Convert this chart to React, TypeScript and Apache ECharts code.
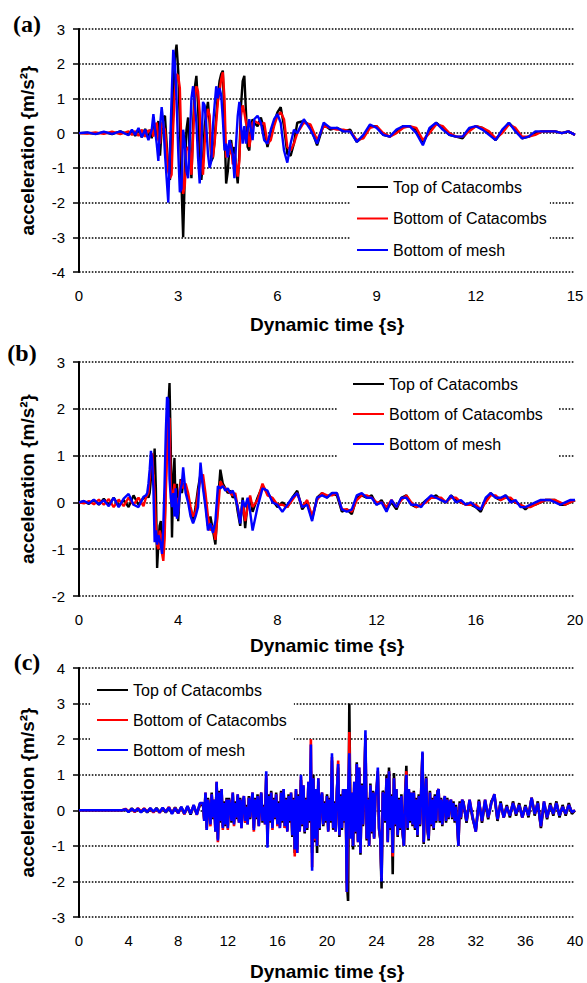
import React, { useEffect, useRef } from 'react';
import * as echarts from 'echarts';

// sampling-time helper (x positions of samples, not data values)
const steps = (a: number, b: number, s: number): number[] => {
  const out: number[] = [];
  const n = Math.round((b - a) / s);
  for (let i = 0; i <= n; i++) out.push(+(a + i * s).toFixed(3));
  return out;
};

const SERIES_NAMES = ['Top of Catacombs', 'Bottom of Catacombs', 'Bottom of mesh'];
const SERIES_COLORS = ['#000000', '#ff0000', '#0000ff'];
const X_TITLE = 'Dynamic time {s}';
const Y_TITLE = 'acceleration {m/s²}';
const PANEL_LABELS = ['(a)', '(b)', '(c)'];

// ---------- Panel (a) ----------
const A_TIME = [...steps(0, 1.5, 0.25), ...steps(1.6, 2.1, 0.1), ...steps(2.15, 5.3, 0.05), ...steps(5.4, 6.6, 0.1), ...steps(6.8, 15, 0.2)];
const A_TOP = [
  0, 0.01, -0.02, 0.03, -0.03, 0.05, -0.04, 0.06, -0.08, 0.1, -0.12, 0.12, -0.15,
  0.1, -0.15, 0.3, 0.25, -0.1, 0.35, -0.65, 0.1, 0.45, 0.5,
  -0.3, -1.0, -1.35, -0.6, 1.0, 2.2, 2.55, 1.8, 0.3, -1.5,
  -3.0, -1.2, 0.1, 0.45, -0.6, -1.3, 0.2, 1.3, 1.65, 0.8,
  -0.6, -1.35, -0.8, 0.2, 0.6, 0.9, 0.3, -0.8, -0.7, -0.2,
  0.5, 1.1, 1.5, 1.7, 1.8, 0.2, -1.45, -1.1, -0.4, -0.2,
  -0.6, -0.4, -1.0, -1.45, -0.6, 0.8, 1.5, 1.65, 0.6, -0.4,
  -0.5, 0.2, 0.4, 0.3,
  0.2, 0.45, 0.1, -0.4, 0.0, 0.3, 0.6, 0.75, 0.2, -0.6, -0.65, -0.3, 0.3,
  0.35, 0.2, -0.35, 0.25, 0.1, 0.15, 0.05, 0.1, -0.25, -0.1,
  0.2, 0.2, -0.05, -0.1, 0.05, 0.2, 0.2, 0.1, -0.3, 0.1,
  0.3, 0.15, -0.05, -0.1, -0.15, 0.1, 0.2, 0.15, 0.0, -0.2,
  0.05, 0.3, 0.1, -0.15, -0.1, 0.0, 0.05, 0.05, 0.05, 0.0,
  0.05, -0.05,
];
const A_BOT = [
  0, -0.01, 0.02, -0.02, 0.04, -0.03, 0.05, -0.05, 0.06, -0.08, 0.1, -0.1, 0.08,
  0.05, 0.1, -0.1, 0.2, 0.3, -0.2, -0.3, 0.3, 0.2, 0.1,
  -0.5, -1.1, -1.3, -1.2, 0.2, 1.2, 1.7, 1.65, 1.3, -0.5,
  -1.75, -1.5, -0.5, -0.4, -0.5, -1.2, -0.1, 1.0, 1.35, 1.2,
  0.6, -0.8, -1.2, -0.3, 0.4, 0.7, 0.5, -0.6, -0.7, -0.3,
  0.3, 0.9, 1.2, 1.55, 1.75, 1.0, -0.7, -0.6, -0.6, -0.3,
  -0.9, -0.6, -0.9, -1.25, -0.8, 0.5, 0.8, 0.6, 0.3, 0.2,
  -0.4, -0.1, 0.3, 0.35,
  0.3, 0.25, 0.3, -0.3, -0.2, 0.2, 0.5, 0.6, 0.4, -0.4, -0.5, -0.3, 0.0,
  0.3, 0.25, -0.2, 0.2, 0.15, 0.1, 0.1, 0.05, -0.2, -0.15,
  0.15, 0.2, 0.0, -0.1, 0.0, 0.15, 0.2, 0.15, -0.2, 0.0,
  0.25, 0.2, 0.0, -0.1, -0.1, 0.05, 0.2, 0.15, 0.05, -0.15,
  0.0, 0.25, 0.15, -0.1, -0.1, -0.05, 0.05, 0.05, 0.05, 0.0,
  0.05, -0.05,
];
const A_MESH = [
  0, 0.02, -0.03, 0.04, -0.02, 0.05, -0.06, 0.1, -0.05, 0.15, -0.12, 0.1, -0.2,
  -0.05, 0.1, 0.55, 0.1, -0.3, -0.8, 0.2, 0.75, 0.3, -0.6,
  -1.3, -2.0, -0.5, 1.0, 2.4, 2.0, 1.0, -0.5, -1.7, -1.6,
  0.1, -0.3, -1.1, -1.3, -0.2, 1.0, 1.35, 0.9, 0.3, -0.7,
  -1.45, -0.4, 0.9, 0.8, 0.2, -0.6, -1.0, -0.8, 0.2, 0.8,
  1.35, 1.0, 1.3, 1.1, 0.4, -0.5, -0.3, -0.7, -0.2, -0.4,
  -0.6, -1.3, -0.3, 0.5, 0.9, 0.2, -0.3, 0.2, -0.3, 0.1,
  0.4, 0.1, -0.2, 0.4,
  0.5, 0.3, -0.2, -0.3, 0.1, 0.4, 0.55, 0.3, -0.5, -0.85, -0.3, 0.1, 0.0,
  0.4, 0.1, -0.3, 0.3, 0.15, 0.15, 0.05, 0.05, -0.25, -0.05,
  0.25, 0.15, -0.05, -0.1, 0.1, 0.2, 0.2, 0.0, -0.35, 0.15,
  0.3, 0.1, -0.05, -0.1, -0.1, 0.15, 0.2, 0.1, -0.05, -0.2,
  0.1, 0.3, 0.05, -0.15, -0.1, 0.05, 0.05, 0.05, 0.05, 0.0,
  0.05, -0.05,
];

// ---------- Panel (b) ----------
const B_TIME = [...steps(0, 2.6, 0.2), ...steps(2.7, 4.2, 0.05), ...steps(4.3, 7.0, 0.1), ...steps(7.2, 20, 0.2)];
const B_TOP = [
  0, 0.02, -0.03, 0.05, -0.05, 0.08, -0.06, 0.1, -0.08, 0.05, -0.1, 0.15, -0.05, 0.1,
  0.1, 0.15, 0.1, 0.2, 0.5, 0.8, 0.6, 1.15, 0.3, -1.4,
  -0.9, -0.5, -0.4, -0.7, -1.0, -0.6, 0.5, 1.5, 2.0, 2.55,
  1.2, -0.75, 0.5, 0.95, -0.2, 0.4, -0.4, 0.1, 0.5, 0.2, 0.4,
  0.3, 0.1, -0.2, -0.4, -0.1, 0.3, 0.6, 0.4, 0.0, -0.5,
  -0.3, -0.6, -0.9, 0.0, 0.7, 0.4, 0.3, 0.2, 0.25, 0.1,
  0.15, -0.2, -0.5, 0.1, -0.55, 0.0, 0.1, -0.2,
  0.1, 0.35, 0.2, 0.05, -0.1, 0.0, -0.1, 0.1, 0.25, -0.15,
  0.0, -0.35, 0.1, 0.2, 0.1, 0.2, 0.15, -0.2, -0.15, -0.25,
  0.1, 0.15, 0.1, 0.15, -0.05, 0.05, -0.15, 0.0, -0.15, 0.1,
  0.15, -0.05, -0.1, -0.05, 0.05, 0.1, 0.15, 0.05, 0.0, 0.15,
  0.05, 0.0, -0.05, -0.05, -0.1, -0.2, 0.05, 0.2, 0.1, 0.05,
  0.15, 0.05, 0.0, -0.05, -0.15, -0.05, -0.05, 0.0, 0.05, 0.05,
  0.05, -0.05, -0.05, 0.0, 0.05,
];
const B_BOT = [
  0, -0.02, 0.03, -0.04, 0.06, -0.05, 0.07, -0.1, 0.06, -0.08, 0.1, -0.05, 0.1, -0.08,
  0.1, 0.15, 0.2, 0.5, 0.9, 1.05, 0.6, 0.2, -0.5, -0.9,
  -1.0, -0.6, -0.7, -1.1, -1.25, -0.8, 0.2, 1.0, 1.8, 1.8,
  0.3, 0.1, 0.2, 0.4, -0.3, 0.1, -0.2, 0.2, 0.4, 0.5, 0.3,
  0.4, 0.2, -0.1, -0.3, -0.2, 0.2, 0.5, 0.6, 0.2, -0.3,
  -0.6, -0.5, -0.8, -0.2, 0.45, 0.35, 0.3, 0.25, 0.2, 0.15,
  0.2, -0.1, -0.4, 0.0, -0.4, -0.1, 0.15, -0.1,
  0.05, 0.4, 0.15, 0.1, -0.05, -0.05, -0.1, 0.05, 0.2, -0.1,
  0.05, -0.3, 0.05, 0.2, 0.15, 0.15, 0.2, -0.15, -0.15, -0.2,
  0.05, 0.15, 0.15, 0.1, 0.0, 0.0, -0.1, 0.05, -0.1, 0.05,
  0.15, 0.0, -0.1, -0.05, 0.0, 0.1, 0.1, 0.1, 0.0, 0.1,
  0.1, 0.0, -0.05, -0.05, -0.05, -0.15, 0.0, 0.15, 0.15, 0.05,
  0.1, 0.1, 0.0, -0.05, -0.1, -0.1, -0.05, 0.0, 0.05, 0.05,
  0.05, 0.0, -0.05, 0.0, 0.05,
];
const B_MESH = [
  0, 0.03, -0.02, 0.06, -0.04, 0.05, -0.08, 0.1, -0.1, 0.08, 0.18, -0.05, -0.1, 0.12,
  0.15, 0.2, 0.4, 0.7, 1.1, 0.9, 0.3, -0.85, -0.6, -0.9,
  -0.7, -0.8, -0.9, -1.1, -0.5, 0.4, 1.5, 2.25, 2.2, 0.5,
  0.1, -0.1, 0.2, -0.3, 0.3, -0.35, -0.2, 0.1, 0.3, 0.4, 0.75,
  0.2, 0.0, -0.3, -0.45, -0.3, -0.1, 0.85, 0.3, -0.1, -0.6,
  -0.45, -0.65, -0.4, 0.35, 0.3, 0.35, 0.25, 0.3, 0.2, 0.25,
  0.1, -0.1, -0.45, 0.05, -0.1, 0.1, -0.2, -0.6,
  -0.1, 0.3, 0.25, 0.0, -0.05, -0.2, -0.05, 0.1, 0.2, -0.1,
  -0.05, -0.4, 0.1, 0.15, 0.1, 0.2, 0.2, -0.15, -0.2, -0.15,
  0.15, 0.2, 0.1, 0.1, -0.05, 0.0, -0.2, 0.05, -0.1, 0.1,
  0.1, -0.05, -0.05, -0.1, 0.05, 0.15, 0.1, 0.05, 0.0, 0.15,
  0.0, 0.05, -0.05, 0.0, -0.1, -0.15, 0.1, 0.2, 0.1, 0.1,
  0.15, 0.0, 0.05, -0.1, -0.1, -0.05, 0.0, 0.05, 0.05, 0.05,
  0.0, -0.05, 0.0, 0.05, 0.05,
];

// ---------- Panel (c) ----------
const C_TIME = [...steps(0, 3.5, 0.5), ...steps(3.75, 9.75, 0.25), ...steps(10, 30.9, 0.1), ...steps(31, 40, 0.25)];
const C_TOP = [
  0, 0, 0, 0, 0, 0, 0, 0,
  0.02, -0.04, 0.05, -0.04, 0.04, -0.05, 0.05, -0.06, 0.05, -0.05, 0.06, -0.05, 0.06, -0.06, 0.07, -0.08, 0.08, -0.07, 0.09, -0.1, 0.1, -0.12, 0.12, -0.1, 0.15,
  0.15, -0.25, 0.45, -0.5, 0.35, 0.05, -0.35, 0.5, -0.25, 0.25,
  -0.5, 0.75, -0.8, 0.55, -0.35, 0.55, -0.45, 0.25, -0.45, 0.35,
  -0.45, 0.35, 0.05, -0.35, 0.45, -0.35, 0.25, -0.25, 0.4, -0.3,
  0.35, -0.45, 0.25, 0.35, -0.35, 0.15, -0.35, 0.4, -0.25, 0.25,
  0.45, -0.5, 0.35, -0.25, 0.45, -0.4, 0.25, 0.45, -0.35, 0.15,
  -0.35, 0.9, -0.8, 0.45, -0.35, 0.55, -0.45, 0.35, -0.25, 0.5,
  -0.35, 0.25, -0.45, 0.55, -0.35, 0.55, -0.5, 0.35, -0.55, 0.45,
  -0.35, 0.45, -0.75, 0.35, -1.2, 0.55, -1.1, 0.45, -0.55, 0.85,
  -0.45, 0.65, -0.65, 0.35, -0.55, 0.75, -0.35, 1.1, -1.2, 1.0,
  -0.9, 0.55, -1.2, 0.8, -0.55, 0.35, 0.45, -0.45, 0.25, -0.35,
  0.45, -0.55, 0.35, -0.35, 1.4, -0.55, 0.25, -0.55, 0.55, 1.2,
  -0.75, 0.45, -0.55, 0.55, -0.35, 0.55, -2.0, -2.55, 3.0, -0.6,
  0.45, -1.1, 0.75, -0.65, 1.35, -0.85, 1.1, -1.25, 0.75, -0.45,
  0.55, 2.0, -0.85, 0.35, -0.95, 0.75, -0.65, 0.55, -0.75, 0.45,
  0.55, 1.0, -0.55, -0.8, -2.2, 0.55, 0.45, -0.35, 1.0, -0.85,
  1.2, -0.55, 0.45, -1.8, 1.05, -0.45, 0.55, -0.75, 0.35, -0.55,
  0.45, -0.65, -1.0, 0.45, 1.25, -0.55, 0.55, -0.35, 0.45, -0.45,
  0.55, -0.55, 0.35, -0.75, 0.45, -0.45, 0.55, 1.6, -0.95, 0.35,
  0.95, -0.55, -0.85, 0.55, -0.45, 0.35, -0.55, 0.45, -0.35, 0.55,
  0.55, -0.35, 0.35, -0.45, 0.25, 0.35, -0.35, 0.35, -0.25, 0.25,
  0.25, -0.25, 0.25, -0.35, 0.15, -0.35, -0.95, 0.25, -0.25, 0.25,
  0.25, -0.35, 0.25, -0.25, -0.55, 0.3, -0.35, 0.25, -0.25, 0.25, 0.4, -0.3, 0.25, -0.2, 0.15, -0.2, 0.25, -0.15, 0.2,
  -0.2, 0.15, -0.2, 0.35, -0.15, 0.25, -0.5, 0.2, -0.25, 0.2, -0.15, 0.25, -0.2, 0.15, -0.15, 0.2, -0.1, 0.0,
];
const C_BOT = [
  0, 0, 0, 0, 0, 0, 0, 0,
  0.04, -0.03, 0.03, -0.05, 0.06, -0.04, 0.05, -0.04, 0.05, -0.06, 0.04, -0.07, 0.06, -0.04, 0.09, -0.09, 0.07, -0.09, 0.08, -0.11, 0.11, -0.09, 0.14, -0.13, 0.18,
  0.2, -0.3, 0.5, -0.55, 0.3, 0.1, -0.45, 0.45, -0.2, 0.3,
  -0.6, 0.8, -0.9, 0.5, -0.3, 0.6, -0.55, 0.2, -0.4, 0.3,
  -0.55, 0.3, 0.1, -0.3, 0.5, -0.45, 0.2, -0.2, 0.45, -0.35,
  0.3, -0.5, 0.2, 0.4, -0.35, 0.1, -0.4, 0.35, -0.2, 0.2,
  0.5, -0.6, 0.3, -0.2, 0.4, -0.45, 0.2, 0.5, -0.3, 0.1,
  -0.4, 1.0, -0.95, 0.4, -0.3, 0.5, -0.55, 0.3, -0.2, 0.45,
  -0.45, 0.2, -0.5, 0.5, -0.3, 0.6, -0.5, 0.3, -0.6, 0.4,
  -0.3, 0.5, -0.7, 0.3, -1.3, 0.6, -1.2, 0.4, -0.6, 0.95,
  -0.4, 0.7, -0.6, 0.3, -0.5, 0.8, -0.3, 2.0, -1.6, 0.9,
  -0.85, 0.6, -1.0, 0.9, -0.5, 0.3, 0.5, -0.4, 0.2, -0.3,
  0.4, -0.6, 0.3, -0.3, 1.5, -0.5, 0.2, -0.6, 0.5, 1.4,
  -0.7, 0.4, -0.5, 0.6, -0.3, 0.6, -2.3, -0.6, 2.2, -0.7,
  0.5, -1.0, 0.8, -0.6, 1.3, -0.9, 1.2, -1.2, 0.7, -0.4,
  0.6, 2.1, -0.8, 0.3, -1.0, 0.7, -0.6, 0.5, -0.8, 0.4,
  0.6, 1.1, -0.5, -0.8, -1.9, 0.5, 0.4, -0.3, 0.9, -0.9,
  1.1, -0.5, 0.4, -1.3, 0.9, -0.4, 0.6, -0.7, 0.3, -0.5,
  0.4, -0.6, -1.0, 0.4, 1.1, -0.5, 0.6, -0.3, 0.5, -0.4,
  0.5, -0.5, 0.3, -0.7, 0.4, -0.4, 0.6, 1.6, -0.9, 0.3,
  0.9, -0.5, -0.8, 0.5, -0.4, 0.3, -0.5, 0.4, -0.3, 0.5,
  0.6, -0.3, 0.3, -0.4, 0.2, 0.4, -0.3, 0.3, -0.2, 0.2,
  0.3, -0.2, 0.2, -0.3, 0.1, -0.4, -1.0, 0.2, -0.2, 0.3,
  0.2, -0.3, 0.3, -0.2, -0.6, 0.25, -0.3, 0.3, -0.2, 0.2, 0.45, -0.25, 0.2, -0.2, 0.1, -0.15, 0.2, -0.1, 0.15,
  -0.2, 0.1, -0.15, 0.35, -0.1, 0.2, -0.45, 0.25, -0.2, 0.15, -0.1, 0.2, -0.15, 0.1, -0.1, 0.15, -0.05, 0.0,
];
const C_MESH = [
  0, 0, 0, 0, 0, 0, 0, 0,
  0.03, -0.05, 0.04, -0.03, 0.05, -0.06, 0.04, -0.05, 0.06, -0.04, 0.05, -0.06, 0.07, -0.05, 0.08, -0.1, 0.06, -0.08, 0.1, -0.1, 0.12, -0.1, 0.15, -0.12, 0.2,
  0.2, -0.3, 0.5, -0.55, 0.3, 0.1, -0.4, 0.45, -0.2, 0.3,
  -0.6, 0.8, -0.85, 0.5, -0.3, 0.6, -0.5, 0.2, -0.4, 0.3,
  -0.5, 0.3, 0.1, -0.3, 0.5, -0.4, 0.2, -0.2, 0.45, -0.35,
  0.3, -0.5, 0.2, 0.4, -0.3, 0.1, -0.4, 0.35, -0.2, 0.2,
  0.5, -0.55, 0.3, -0.2, 0.4, -0.45, 0.2, 0.5, -0.3, 0.1,
  -0.4, 1.1, -1.05, 0.4, -0.3, 0.5, -0.5, 0.3, -0.2, 0.45,
  -0.4, 0.2, -0.5, 0.5, -0.3, 0.6, -0.45, 0.3, -0.6, 0.4,
  -0.3, 0.5, -0.7, 0.3, -1.1, 0.6, -1.2, 0.4, -0.6, 1.0,
  -0.4, 0.7, -0.6, 0.3, -0.5, 0.8, -0.3, 1.85, -1.7, 0.9,
  -0.8, 0.6, -1.0, 0.9, -0.5, 0.3, 0.5, -0.4, 0.2, -0.3,
  0.4, -0.6, 0.3, -0.3, 1.6, -0.5, 0.2, -0.6, 0.5, 1.3,
  -0.7, 0.4, -0.5, 0.6, -0.3, 0.6, -2.3, 0.4, 1.6, -0.8,
  0.5, -1.0, 0.8, -0.6, 1.3, -0.9, 1.2, -1.2, 0.7, -0.4,
  0.6, 2.25, -0.8, 0.3, -1.0, 0.7, -0.6, 0.5, -0.8, 0.4,
  0.6, 1.2, -0.5, -0.8, -2.0, 0.5, 0.4, -0.3, 0.9, -0.9,
  1.1, -0.5, 0.4, -1.2, 0.9, -0.4, 0.6, -0.7, 0.3, -0.5,
  0.4, -0.6, -1.0, 0.4, 1.0, -0.5, 0.6, -0.3, 0.5, -0.4,
  0.5, -0.5, 0.3, -0.7, 0.4, -0.4, 0.6, 1.65, -0.9, 0.3,
  0.9, -0.5, -0.8, 0.5, -0.4, 0.3, -0.5, 0.4, -0.3, 0.5,
  0.6, -0.3, 0.3, -0.4, 0.2, 0.4, -0.3, 0.3, -0.2, 0.2,
  0.3, -0.2, 0.2, -0.3, 0.1, -0.4, -1.0, 0.2, -0.2, 0.3,
  0.2, -0.3, 0.3, -0.2, -0.6, 0.25, -0.3, 0.3, -0.2, 0.2, 0.45, -0.25, 0.2, -0.2, 0.1, -0.15, 0.2, -0.1, 0.15,
  -0.2, 0.1, -0.15, 0.35, -0.1, 0.2, -0.45, 0.25, -0.2, 0.15, -0.1, 0.2, -0.15, 0.1, -0.1, 0.15, -0.05, 0.0,
];

// axis ranges per panel
const X_MAX = [15, 20, 40];
const X_INTERVAL = [3, 4, 4];
const Y_MIN = [-4, -2, -3];
const Y_MAX = [3, 3, 4];

const SANS = '"Liberation Sans", Arial, Helvetica, sans-serif';
const SERIF = '"Liberation Serif", "Times New Roman", serif';

const PANELS = [
  { time: A_TIME, values: [A_TOP, A_BOT, A_MESH], top: 29, height: 243, xGap: 43, lw: 2.4, legend: { left: 350, top: 176, padding: [3, 3, 3, 7], itemGap: 15.5 }, lx: 27, ly: 24 },
  { time: B_TIME, values: [B_TOP, B_BOT, B_MESH], top: 362, height: 234, xGap: 40, lw: 2.4, legend: { left: 338, top: 370, padding: [6, 16, 10, 15], itemGap: 14 }, lx: 22, ly: 353 },
  { time: C_TIME, values: [C_TOP, C_BOT, C_MESH], top: 668, height: 249, xGap: 45, lw: 2.6, legend: { left: 90, top: 676, padding: [6, 7, 8, 7], itemGap: 14 }, lx: 27, ly: 662 },
];

const pairs = (t: number[], v: number[]) => t.map((x, i) => [x, v[i]]);

export default function App() {
  const ref = useRef<HTMLDivElement>(null);
  useEffect(() => {
    if (!ref.current) return;
    const chart = echarts.init(ref.current, undefined, { renderer: 'svg' });
    const grid: any[] = [];
    const xAxis: any[] = [];
    const yAxis: any[] = [];
    const series: any[] = [];
    const legend: any[] = [];
    const graphic: any[] = [];
    PANELS.forEach((p, i) => {
      grid.push({ left: 79, width: 496, top: p.top, height: p.height, containLabel: false });
      xAxis.push({
        type: 'value', gridIndex: i, min: 0, max: X_MAX[i], interval: X_INTERVAL[i],
        axisLine: { show: false, onZero: false }, axisTick: { show: false }, splitLine: { show: false },
        axisLabel: { color: '#000', fontSize: 15, fontFamily: SANS, margin: 16 },
        name: X_TITLE, nameLocation: 'middle', nameGap: p.xGap,
        nameTextStyle: { color: '#000', fontSize: 19, fontWeight: 'bold', fontFamily: SANS },
      });
      yAxis.push({
        type: 'value', gridIndex: i, min: Y_MIN[i], max: Y_MAX[i], interval: 1,
        axisLine: { show: true, onZero: false, lineStyle: { color: '#000', width: 2 } },
        axisTick: { show: true, length: 6, lineStyle: { color: '#000', width: 1.5 } },
        axisLabel: { color: '#000', fontSize: 15, fontFamily: SANS, margin: 14 },
        splitLine: { show: true, lineStyle: { color: '#000', width: 1.6, type: [1.6, 1.6] } },
        name: Y_TITLE, nameLocation: 'middle', nameGap: 42,
        nameTextStyle: { color: '#000', fontSize: 19, fontWeight: 'bold', fontFamily: SANS },
      });
      SERIES_NAMES.forEach((name, k) => {
        series.push({
          type: 'line', name, xAxisIndex: i, yAxisIndex: i,
          data: pairs(p.time, p.values[k]),
          symbol: 'none', showSymbol: false, color: SERIES_COLORS[k],
          lineStyle: { color: SERIES_COLORS[k], width: p.lw }, z: 2 + k,
        });
      });
      legend.push({
        orient: 'vertical', left: p.legend.left, top: p.legend.top, padding: p.legend.padding,
        itemGap: p.legend.itemGap, itemWidth: 31, itemHeight: 2, icon: 'rect',
        backgroundColor: '#ffffff', selectedMode: false, data: SERIES_NAMES,
        textStyle: { color: '#000', fontSize: 16, fontFamily: SANS },
      });
      graphic.push({
        type: 'text', x: p.lx, y: p.ly,
        style: { text: PANEL_LABELS[i], fill: '#000', font: `bold 24px ${SERIF}`, align: 'center', verticalAlign: 'middle' },
      });
    });
    chart.setOption({
      animation: false,
      backgroundColor: '#ffffff',
      grid, xAxis, yAxis, series, legend, graphic,
    });
    return () => chart.dispose();
  }, []);
  return <div ref={ref} style={{ position: 'fixed', left: 0, top: 0, width: 587, height: 983 }} />;
}
